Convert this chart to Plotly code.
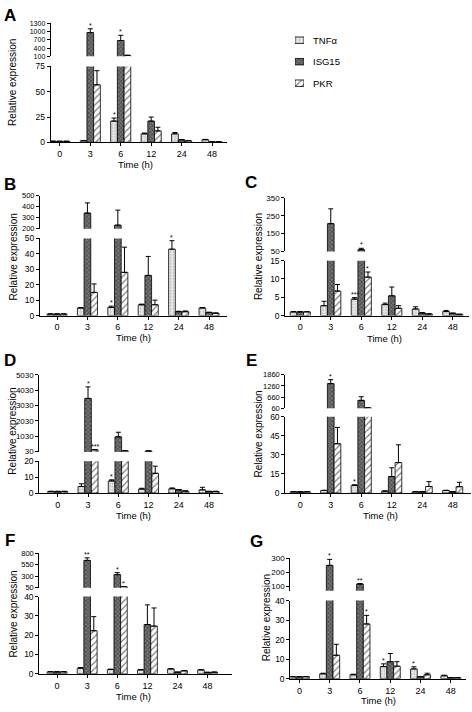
import plotly.graph_objects as go

W, H = 472, 712
TIMES = ["0", "3", "6", "12", "24", "48"]
SERIES = ["TNFα", "ISG15", "PKR"]

# ---- data (mean, SEM) per panel ----
A_TNF = [1.0, 1.5, 21, 8.4, 8.4, 2.6]
A_TNF_ERR = [0.2, 0.3, 3, 0.8, 1.3, 0.3]
A_ISG = [1.0, 965, 676, 21, 2.5, 0.5]
A_ISG_ERR = [0.1, 140, 190, 4, 0.3, 0.1]
A_PKR = [1.0, 56.8, 130, 11.3, 1.5, 0.5]
A_PKR_ERR = [0.1, 14, 8, 3.6, 0.3, 0.1]

B_TNF = [1.0, 4.9, 5.3, 7, 43, 4.9]
B_TNF_ERR = [0.1, 0.3, 0.8, 0.4, 5.5, 0.3]
B_ISG = [1.0, 342, 233, 26, 2.5, 2]
B_ISG_ERR = [0.1, 92, 136, 12.3, 0.3, 0.2]
B_PKR = [1.0, 15, 28, 7, 2.5, 1.5]
B_PKR_ERR = [0.1, 5.5, 16.3, 3, 0.5, 0.2]

C_TNF = [1.0, 2.7, 4.5, 3, 1.8, 1.1]
C_TNF_ERR = [0.1, 1.2, 0.4, 0.4, 0.6, 0.3]
C_ISG = [1.0, 206, 60, 5.4, 0.7, 0.6]
C_ISG_ERR = [0.1, 83, 8, 2.4, 0.1, 0.1]
C_PKR = [1.0, 6.7, 10.5, 2, 0.4, 0.3]
C_PKR_ERR = [0.1, 1.8, 1.4, 0.7, 0.1, 0.1]

D_TNF = [1.0, 4.1, 7.6, 2.5, 2.7, 2]
D_TNF_ERR = [0.1, 1.7, 0.7, 0.5, 0.5, 1.6]
D_ISG = [1.0, 3490, 990, 70, 2, 1]
D_ISG_ERR = [0.1, 750, 300, 10, 0.2, 0.1]
D_PKR = [1.0, 150, 80, 12.4, 1.2, 1]
D_PKR_ERR = [0.1, 10, 5, 4.5, 0.2, 0.1]

E_TNF = [1.0, 2, 6, 1.5, 1, 2]
E_TNF_ERR = [0.1, 0.2, 0.5, 0.2, 0.1, 0.2]
E_ISG = [1.0, 1383, 483, 13, 1, 1]
E_ISG_ERR = [0.1, 212, 197, 6.9, 0.1, 0.1]
E_PKR = [1.0, 38.8, 80, 24, 5.2, 5]
E_PKR_ERR = [0.1, 12.9, 5, 14, 3.8, 3.5]

F_TNF = [1.0, 2.9, 2.2, 2, 2.5, 2]
F_TNF_ERR = [0.1, 0.3, 0.2, 0.2, 0.2, 0.2]
F_ISG = [1.0, 643, 335, 25.5, 0.8, 0.7]
F_ISG_ERR = [0.1, 56, 43, 10.2, 0.1, 0.1]
F_PKR = [1.0, 22.3, 71, 24.7, 1.5, 0.8]
F_PKR_ERR = [0.1, 7.3, 5, 9.4, 0.2, 0.1]

G_TNF = [1.0, 2.5, 2, 6.2, 5, 1.5]
G_TNF_ERR = [0.1, 0.3, 0.3, 1.4, 1.1, 0.3]
G_ISG = [1.0, 248, 114, 8.7, 1, 0.5]
G_ISG_ERR = [0.1, 43, 4, 4.2, 0.1, 0.1]
G_PKR = [1.0, 12, 28, 6.4, 2, 0.5]
G_PKR_ERR = [0.1, 5.6, 4.4, 2.3, 0.8, 0.1]

# significance marks: (panel, series index, time index, text)
STARS = [
    ("A", 1, 1, "*"), ("A", 1, 2, "*"), ("A", 0, 2, "*"),
    ("B", 0, 2, "*"), ("B", 0, 4, "*"),
    ("C", 0, 2, "***"), ("C", 1, 2, "*"), ("C", 2, 2, "*"),
    ("D", 1, 1, "*"), ("D", 2, 1, "***"), ("D", 0, 2, "*"),
    ("E", 1, 1, "*"), ("E", 0, 2, "*"),
    ("F", 1, 1, "**"), ("F", 1, 2, "*"), ("F", 2, 2, "*"),
    ("G", 1, 1, "*"), ("G", 1, 2, "**"), ("G", 2, 2, "*"), ("G", 0, 3, "*"), ("G", 0, 4, "*"),
]

DATA = {
    "A": [(A_TNF, A_TNF_ERR), (A_ISG, A_ISG_ERR), (A_PKR, A_PKR_ERR)],
    "B": [(B_TNF, B_TNF_ERR), (B_ISG, B_ISG_ERR), (B_PKR, B_PKR_ERR)],
    "C": [(C_TNF, C_TNF_ERR), (C_ISG, C_ISG_ERR), (C_PKR, C_PKR_ERR)],
    "D": [(D_TNF, D_TNF_ERR), (D_ISG, D_ISG_ERR), (D_PKR, D_PKR_ERR)],
    "E": [(E_TNF, E_TNF_ERR), (E_ISG, E_ISG_ERR), (E_PKR, E_PKR_ERR)],
    "F": [(F_TNF, F_TNF_ERR), (F_ISG, F_ISG_ERR), (F_PKR, F_PKR_ERR)],
    "G": [(G_TNF, G_TNF_ERR), (G_ISG, G_ISG_ERR), (G_PKR, G_PKR_ERR)],
}

# ---- layout geometry (pixels) ----
PANELS = {
    "A": dict(x=(50.7, 227), xr=(-0.3, 5.49), low=(62.3, 139.3), lr=(0, 75), lt=[0, 25, 50, 75],
              up=(18.7, 52), ur=(100, 1300), ut=[100, 400, 700, 1000, 1300], uf=7,
              letter=(10, 11), ytitle=(13, 79), xtitle=(135, 162)),
    "B": dict(x=(40, 227), xr=(-0.56, 5.59), low=(236.7, 315), lr=(0, 50), lt=[0, 10, 20, 30, 40, 50],
              up=(193.3, 227), ur=(200, 500), ut=[200, 300, 400, 500], uf=7.5,
              letter=(10, 182), ytitle=(13, 256), xtitle=(133, 337.5)),
    "C": dict(x=(285.3, 469), xr=(-0.49, 5.53), low=(259.3, 315), lr=(0, 15), lt=[0, 5, 10, 15],
              up=(195.7, 250), ur=(50, 350), ut=[50, 150, 250, 350], uf=8,
              letter=(251, 180), ytitle=(258.7, 255), xtitle=(384, 338)),
    "D": dict(x=(39.3, 223), xr=(-0.61, 5.46), low=(462.7, 495), lr=(0, 20), lt=[0, 10, 20],
              up=(375, 453), ur=(30, 5030), ut=[30, 1030, 2030, 3030, 4030, 5030], uf=8,
              letter=(10, 361), ytitle=(12.7, 432), xtitle=(133, 517.5)),
    "E": dict(x=(285.3, 471), xr=(-0.49, 5.6), low=(417.7, 495), lr=(0, 60), lt=[0, 15, 30, 45, 60],
              up=(375, 409), ur=(60, 1860), ut=[60, 660, 1260, 1860], uf=7.5,
              letter=(251, 361), ytitle=(258.7, 435), xtitle=(380, 517.5)),
    "F": dict(x=(39.3, 231.7), xr=(-0.59, 5.8), low=(600, 678.3), lr=(0, 40), lt=[0, 10, 20, 30, 40],
              up=(556, 591), ur=(50, 800), ut=[50, 300, 550, 800], uf=7.5,
              letter=(10, 543), ytitle=(13.3, 618), xtitle=(133, 701)),
    "G": dict(x=(290.3, 466), xr=(-0.3, 5.5), low=(604, 683.3), lr=(0, 40), lt=[0, 10, 20, 30, 40],
              up=(561, 594), ur=(66.8, 300), ut=[100, 200, 300], uf=8,
              letter=(256, 544), ytitle=(266, 622), xtitle=(378, 705)),
}

# legend geometry (pixels): swatch box x-range, row centres, label x
LEG_BOX_X = (295, 304)
LEG_ROWS_Y = (35.7, 57.5, 79.3)
LEG_TEXT_X = 311

STYLES = [
    dict(color="#e6e6e6", pattern=dict(shape=".", fgcolor="#8a8a8a", bgcolor="#ececec", size=3, solidity=0.35)),
    dict(color="#555555", pattern=dict(shape="x", fgcolor="#1e1e1e", bgcolor="#7a7a7a", size=3, solidity=0.5)),
    dict(color="white", pattern=dict(shape="/", fgcolor="black", bgcolor="white", size=4.5, solidity=0.28)),
]

FONT = "Liberation Sans, Arial, sans-serif"
BARGAP = 0.34


def xd(l, r):
    return [l / W, r / W]


def yd(top, bottom):
    return [1 - bottom / H, 1 - top / H]


def paper_text(text, px, py, size, angle=0, xanchor="center"):
    return dict(text=text, x=px / W, y=1 - py / H, xref="paper", yref="paper",
                xanchor=xanchor, yanchor="middle", textangle=angle, showarrow=False,
                font=dict(size=size, family=FONT, color="black"))


fig = go.Figure()
annotations = []
layout = {}

for i, key in enumerate(["A", "B", "C", "D", "E", "F", "G"]):
    p = PANELS[key]
    xn = "x" if i == 0 else f"x{i + 1}"
    yl_i, yu_i = 2 * i + 1, 2 * i + 2
    yl = "y" if yl_i == 1 else f"y{yl_i}"
    yu = f"y{yu_i}"
    layout["xaxis" if i == 0 else f"xaxis{i + 1}"] = dict(
        domain=xd(*p["x"]), type="category", categoryorder="array", categoryarray=TIMES,
        range=list(p["xr"]), anchor=yl, showline=True, linecolor="black", linewidth=1,
        ticks="outside", ticklen=3, tickcolor="black", tickwidth=1,
        tickfont=dict(size=9, family=FONT, color="black"), showgrid=False, zeroline=False, fixedrange=True)
    ycommon = dict(anchor=xn, showline=True, linecolor="black", linewidth=1, ticks="outside",
                   ticklen=3, tickcolor="black", tickwidth=1, showgrid=False, zeroline=False,
                   tickmode="array", fixedrange=True)
    layout["yaxis" if yl_i == 1 else f"yaxis{yl_i}"] = dict(
        domain=yd(*p["low"]), range=list(p["lr"]), tickvals=p["lt"],
        tickfont=dict(size=8.5, family=FONT, color="black"), **ycommon)
    layout[f"yaxis{yu_i}"] = dict(
        domain=yd(*p["up"]), range=list(p["ur"]), tickvals=p["ut"],
        tickfont=dict(size=p["uf"], family=FONT, color="black"), **ycommon)

    for s, (vals, errs) in enumerate(DATA[key]):
        for yax in (yl, yu):
            if yax == yu:
                yv = [v if v > p["ur"][0] else None for v in vals]
            else:
                yv = list(vals)
            fig.add_trace(go.Bar(
                x=TIMES, y=yv, xaxis=xn, yaxis=yax, name=SERIES[s], showlegend=False,
                marker=dict(color=STYLES[s]["color"], pattern=STYLES[s]["pattern"],
                            line=dict(color="black", width=0.8)),
                error_y=dict(type="data", symmetric=False, array=errs, arrayminus=[0] * len(vals),
                             color="black", thickness=1, width=2.5),
                hoverinfo="skip"))

    # labels
    annotations.append(paper_text(f"<b>{key}</b>", *p["letter"], 17))
    annotations.append(paper_text("Relative expression", *p["ytitle"], 10, angle=-90))
    annotations.append(paper_text("Time (h)", *p["xtitle"], 9.5))

    # significance marks
    spacing = (p["x"][1] - p["x"][0]) / (p["xr"][1] - p["xr"][0])
    bw = spacing * (1 - BARGAP) / 3
    for (pk, s, t, txt) in STARS:
        if pk != key:
            continue
        vals, errs = DATA[key][s]
        top = vals[t] + errs[t]
        yref = yl if top <= p["lr"][1] else yu
        annotations.append(dict(text=txt, x=t, y=top, xref=xn, yref=yref, xshift=(s - 1) * bw,
                                xanchor="center", yanchor="bottom", yshift=-2, showarrow=False,
                                font=dict(size=7, family=FONT, color="black")))

# ---- legend drawn as a tiny bar subplot ----
row_pitch = LEG_ROWS_Y[1] - LEG_ROWS_Y[0]
leg_top = LEG_ROWS_Y[0] - row_pitch / 2
leg_bot = LEG_ROWS_Y[-1] + row_pitch / 2
layout["xaxis8"] = dict(domain=xd(*LEG_BOX_X), range=[0, 1], visible=False, anchor="y15", fixedrange=True)
layout["yaxis15"] = dict(domain=yd(leg_top, leg_bot), type="category", categoryorder="array",
                         categoryarray=list(reversed(SERIES)), range=[-0.5, 2.5], visible=False,
                         anchor="x8", fixedrange=True)
for s in range(3):
    fig.add_trace(go.Bar(
        x=[1], y=[SERIES[s]], orientation="h", xaxis="x8", yaxis="y15", width=0.3,
        marker=dict(color=STYLES[s]["color"], pattern=STYLES[s]["pattern"],
                    line=dict(color="black", width=0.8)),
        showlegend=False, hoverinfo="skip"))
    annotations.append(paper_text(SERIES[s], LEG_TEXT_X, LEG_ROWS_Y[s], 9.5, xanchor="left"))

fig.update_layout(
    width=W, height=H, margin=dict(l=0, r=0, t=0, b=0),
    paper_bgcolor="white", plot_bgcolor="white",
    barmode="group", bargap=BARGAP, bargroupgap=0,
    annotations=annotations, showlegend=False,
    font=dict(family=FONT),
    **layout)

fig.write_html("out.html", config={"displayModeBar": False},
               post_script="document.body.style.margin='0';")
